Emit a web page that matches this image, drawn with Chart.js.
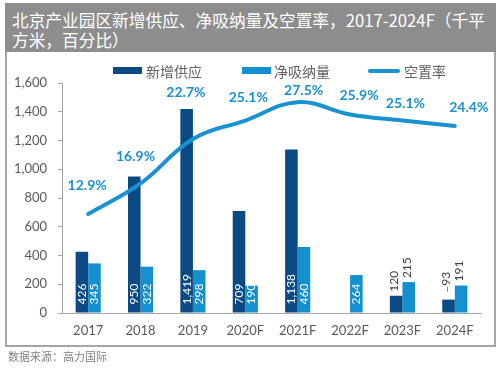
<!DOCTYPE html>
<html><head><meta charset="utf-8">
<script src="https://cdn.jsdelivr.net/npm/chart.js@4"></script>
<style>
body{margin:0;width:500px;height:370px;background:#fff;position:relative;overflow:hidden;font-family:Lato,"Noto Sans CJK SC",sans-serif}
#title{position:absolute;left:5px;top:3px;width:484px;height:42px;padding:7px 0 0 7px;background:#8d8d8d;color:#fff;font-size:16.7px;line-height:20px;font-family:"Noto Sans CJK SC",sans-serif;white-space:nowrap}
#box{position:absolute;left:5px;top:52px;width:487px;height:293px;border:2px solid #a5a5a5;border-top:none}
#src{position:absolute;left:8px;top:348px;font-size:11px;color:#808080;font-family:"Noto Sans CJK SC",sans-serif}
#wrap{position:absolute;left:0;top:0;width:500px;height:370px}
.lg{position:absolute;font-size:14px;color:#626262;font-family:"Noto Sans CJK SC",sans-serif;line-height:16px;top:63px;z-index:2}
.sw{position:absolute;z-index:2}
</style></head>
<body>
<div id="title">北京产业园区新增供应、净吸纳量及空置率，2017-2024F（千平<br>方米，百分比）</div>
<div id="box"></div>
<div id="wrap"><canvas id="c" width="500" height="370"></canvas></div>
<div class="sw" style="left:113px;top:67px;width:29px;height:7px;background:#0b4a83"></div>
<div class="lg" style="left:146px">新增供应</div>
<div class="sw" style="left:242px;top:67px;width:29px;height:7px;background:#1490d0"></div>
<div class="lg" style="left:274px">净吸纳量</div>
<div class="sw" style="left:368px;top:69px;width:32px;height:4px;border-radius:2px;background:#1a91d1"></div>
<div class="lg" style="left:404px">空置率</div>
<div id="src">数据来源：高力国际</div>
<script>
const categories = ['2017','2018','2019','2020F','2021F','2022F','2023F','2024F'];
const newSupply = [426, 950, 1419, 709, 1138, null, 120, 93];
const netAbsorption = [345, 322, 298, 190, 460, 264, 215, 191];
const vacancyRate = [12.9, 16.9, 22.7, 25.1, 27.5, 25.9, 25.1, 24.4];
const yTicks = [0, 200, 400, 600, 800, 1000, 1200, 1400, 1600];
const seriesNames = ['新增供应', '净吸纳量', '空置率'];

// label placement (style config, not data)
const outsideCats = ['2023F', '2024F'];
const rateLabelDx = [-1, -5, -7, 3, 6, 9, 3, 14];
const rateLabelDy = [29, 27, 46, 23, 12, 19, 17, 18];

const C_DARK = '#0b4a83', C_LIGHT = '#1490d0', C_LINE = '#1a91d1';

const labelPlugin = {
  id: 'labels',
  afterDatasetsDraw(chart) {
    const ctx = chart.ctx;
    [0, 1].forEach(di => {
      const meta = chart.getDatasetMeta(di);
      const data = chart.data.datasets[di].data;
      meta.data.forEach((el, i) => {
        const v = data[i];
        if (v == null) return;
        const txt = v.toLocaleString('en-US');
        const outside = outsideCats.includes(categories[i]);
        const leader = outside && v < 100;
        ctx.save();
        let y0 = outside ? el.y - (leader ? 14 : 4) : el.base - 8;
        if (leader) {
          ctx.strokeStyle = '#7f7f7f'; ctx.lineWidth = 1;
          ctx.beginPath(); ctx.moveTo(el.x - 1, el.y - 8); ctx.lineTo(el.x - 1, el.y - 13); ctx.stroke();
        }
        ctx.translate(el.x - (outside ? 2 : 0), y0);
        ctx.rotate(-Math.PI / 2);
        ctx.textAlign = 'left';
        ctx.textBaseline = 'middle';
        ctx.fillStyle = outside ? '#404040' : '#ffffff';
        ctx.font = '12px Lato';
        ctx.fillText(txt, 0, 0);
        ctx.restore();
      });
    });
    const lm = chart.getDatasetMeta(2);
    ctx.save();
    ctx.font = 'bold 14px Lato';
    ctx.fillStyle = C_LINE;
    ctx.textAlign = 'center';
    ctx.textBaseline = 'middle';
    lm.data.forEach((pt, i) => {
      ctx.fillText(vacancyRate[i].toFixed(1) + '%', pt.x + rateLabelDx[i], pt.y - rateLabelDy[i]);
    });
    ctx.restore();
  }
};

new Chart(document.getElementById('c'), {
  data: {
    labels: categories,
    datasets: [
      { type: 'bar', label: seriesNames[0], data: newSupply, backgroundColor: C_DARK, yAxisID: 'y', order: 2, categoryPercentage: 0.48, barPercentage: 1.0 },
      { type: 'bar', label: seriesNames[1], data: netAbsorption, backgroundColor: C_LIGHT, yAxisID: 'y', order: 2, categoryPercentage: 0.48, barPercentage: 1.0 },
      { type: 'line', label: seriesNames[2], data: vacancyRate, borderColor: C_LINE, borderWidth: 4, pointRadius: 0, tension: 0.4, fill: false, yAxisID: 'y1', order: 0, borderCapStyle: 'round' }
    ]
  },
  options: {
    responsive: false,
    animation: false,
    events: [],
    layout: { padding: { left: 0, right: 19, top: 83, bottom: 0 } },
    plugins: { legend: { display: false }, tooltip: { enabled: false } },
    scales: {
      x: {
        grid: { display: false, drawTicks: false },
        border: { display: true, color: '#a6a6a6', width: 1 },
        ticks: { color: '#595959', font: { family: 'Lato', size: 13 }, padding: 10, maxRotation: 0 },
        afterFit(s) { s.height = 57; }
      },
      y: {
        min: 0, max: 1600,
        grid: { drawOnChartArea: false, drawTicks: true, tickLength: 4, color: '#a6a6a6' },
        border: { display: true, color: '#a6a6a6', width: 1 },
        afterBuildTicks(s) { s.ticks = yTicks.map(v => ({ value: v })); },
        ticks: { color: '#595959', font: { family: 'Lato', size: 13 }, padding: 11, callback: v => v.toLocaleString('en-US') },
        afterFit(s) { s.width = 62; }
      },
      y1: { display: false, min: 0, max: 30, position: 'right' }
    }
  },
  plugins: [labelPlugin]
});
</script>
</body></html>
